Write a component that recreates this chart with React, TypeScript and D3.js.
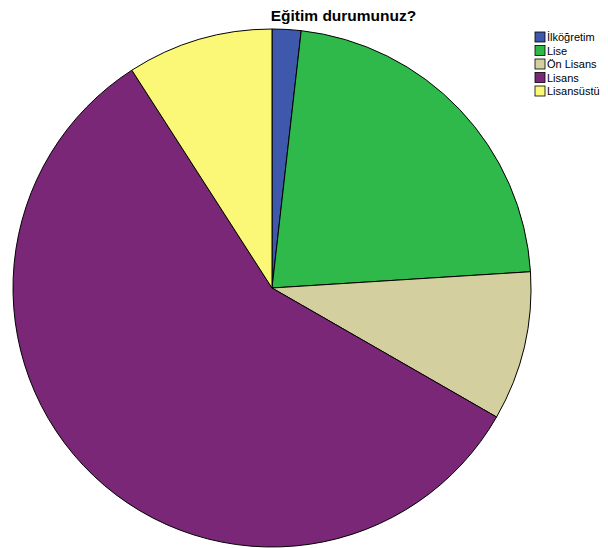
import React from "react";
import * as d3 from "d3";

const categories = ["İlköğretim", "Lise", "Ön Lisans", "Lisans", "Lisansüstü"];
const percents = [1.8, 22.2, 9.3, 57.6, 9.1];
const colors = ["#3e58ac", "#2fb94a", "#d4cf9e", "#7a2777", "#fbf877"];
const title = "Eğitim durumunuz?";

export default function App() {
  const W = 608, H = 548;
  const cx = 272, cy = 288, r = 259;
  const pie = d3.pie<number>().sort(null).value((d) => d);
  const arcs = pie(percents);
  const arc = d3.arc<d3.PieArcDatum<number>>().innerRadius(0).outerRadius(r);
  return (
    <svg width={W} height={H} style={{ position: "absolute", left: 0, top: 0, background: "#fff" }}
      fontFamily="'Liberation Sans', Arial, sans-serif">
      <text x={343.5} y={21} textAnchor="middle" fontSize={15.5} fontWeight="bold" fill="#000">{title}</text>
      <g transform={`translate(${cx},${cy})`}>
        {arcs.map((a, i) => (
          <path key={i} d={arc(a) || ""} fill={colors[i]} stroke="#000" strokeWidth={1} strokeLinejoin="round" />
        ))}
      </g>
      <g>
        {categories.map((c, i) => (
          <g key={c} transform={`translate(535,${32 + i * 13.5})`}>
            <rect x={0} y={0} width={10} height={10} fill={colors[i]} stroke="#000" strokeWidth={0.8} />
            <text x={12} y={9} fontSize={11} fill="#000">{c}</text>
          </g>
        ))}
      </g>
    </svg>
  );
}
